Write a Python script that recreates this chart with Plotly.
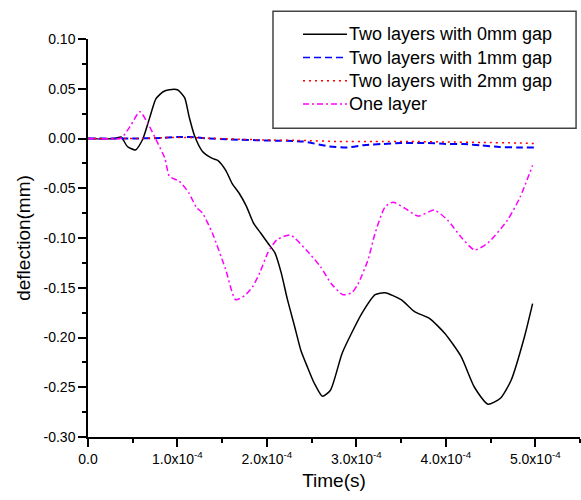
import plotly.graph_objects as go

# ---- data (time in seconds, deflection in mm) ----
t_gap0 = [0, 0.30e-4, 0.37e-4, 0.44e-4, 0.53e-4, 0.61e-4, 0.69e-4, 0.76e-4, 0.84e-4, 0.91e-4,
          1.00e-4, 1.08e-4, 1.13e-4, 1.19e-4, 1.28e-4, 1.39e-4, 1.45e-4, 1.54e-4, 1.61e-4, 1.69e-4,
          1.77e-4, 1.85e-4, 1.93e-4, 2.01e-4, 2.09e-4, 2.16e-4, 2.23e-4, 2.31e-4, 2.38e-4, 2.45e-4,
          2.53e-4, 2.62e-4, 2.71e-4, 2.84e-4, 2.95e-4, 3.06e-4, 3.21e-4, 3.32e-4, 3.50e-4, 3.65e-4,
          3.82e-4, 3.99e-4, 4.17e-4, 4.32e-4, 4.47e-4, 4.61e-4, 4.73e-4, 4.88e-4, 4.97e-4]
d_gap0 = [0, 0, 0.0015, -0.008, -0.0115, -0.001, 0.021, 0.040, 0.047, 0.049,
          0.049, 0.041, 0.022, 0.003, -0.013, -0.020, -0.022, -0.032, -0.045, -0.055,
          -0.068, -0.085, -0.095, -0.105, -0.115, -0.135, -0.162, -0.189, -0.213, -0.229,
          -0.246, -0.259, -0.253, -0.216, -0.195, -0.176, -0.157, -0.155, -0.162, -0.174,
          -0.181, -0.196, -0.219, -0.250, -0.267, -0.261, -0.243, -0.199, -0.166]

t_gap1 = [0, 0.5e-4, 0.8e-4, 1.0e-4, 1.15e-4, 1.35e-4, 1.6e-4, 2.0e-4, 2.4e-4, 2.7e-4, 2.9e-4,
          3.1e-4, 3.3e-4, 3.5e-4, 3.8e-4, 4.0e-4, 4.2e-4, 4.4e-4, 4.6e-4, 4.8e-4, 5.0e-4]
d_gap1 = [0, 0, 0.0005, 0.0015, 0.0015, 0.0, -0.001, -0.002, -0.003, -0.008, -0.009,
          -0.0065, -0.0055, -0.0045, -0.0045, -0.0055, -0.0055, -0.007, -0.0085, -0.009, -0.009]

t_gap2 = [0, 0.6e-4, 0.9e-4, 1.1e-4, 1.3e-4, 1.6e-4, 2.0e-4, 2.4e-4, 2.8e-4, 3.2e-4,
          3.6e-4, 4.0e-4, 4.4e-4, 4.8e-4, 5.0e-4]
d_gap2 = [0, 0, 0.001, 0.001, 0.0005, -0.0005, -0.0015, -0.002, -0.003, -0.003,
          -0.003, -0.0035, -0.004, -0.0045, -0.005]

t_one = [0, 0.36e-4, 0.39e-4, 0.47e-4, 0.58e-4, 0.67e-4, 0.76e-4, 0.86e-4, 0.91e-4, 1.02e-4,
         1.13e-4, 1.21e-4, 1.28e-4, 1.39e-4, 1.54e-4, 1.65e-4, 1.75e-4, 1.84e-4, 1.92e-4, 2.01e-4,
         2.11e-4, 2.26e-4, 2.44e-4, 2.60e-4, 2.72e-4, 2.85e-4, 2.95e-4, 3.02e-4, 3.13e-4, 3.21e-4,
         3.32e-4, 3.41e-4, 3.54e-4, 3.69e-4, 3.87e-4, 4.02e-4, 4.17e-4, 4.32e-4, 4.47e-4, 4.69e-4,
         4.83e-4, 4.97e-4]
d_one = [0, 0, 0.002, 0.012, 0.027, 0.015, -0.001, -0.020, -0.038, -0.043,
         -0.055, -0.069, -0.075, -0.095, -0.132, -0.162, -0.158, -0.149, -0.135, -0.115,
         -0.102, -0.097, -0.112, -0.129, -0.146, -0.157, -0.155, -0.146, -0.122, -0.095,
         -0.069, -0.064, -0.070, -0.078, -0.072, -0.082, -0.099, -0.112, -0.105, -0.082,
         -0.059, -0.027]

series_names = ["Two layers with 0mm gap", "Two layers with 1mm gap",
                "Two layers with 2mm gap", "One layer"]

x_tickvals = [0, 1e-4, 2e-4, 3e-4, 4e-4, 5e-4]
x_ticktext = ["0.0", "1.0x10<sup>-4</sup>", "2.0x10<sup>-4</sup>", "3.0x10<sup>-4</sup>",
              "4.0x10<sup>-4</sup>", "5.0x10<sup>-4</sup>"]
y_tickvals = [0.10, 0.05, 0.00, -0.05, -0.10, -0.15, -0.20, -0.25, -0.30]
y_ticktext = ["0.10", "0.05", "0.00", "-0.05", "-0.10", "-0.15", "-0.20", "-0.25", "-0.30"]

FONT = "Liberation Sans, Arial, sans-serif"

styles = [
    dict(color="#000000", width=1.5, dash="solid"),
    dict(color="#0000FF", width=2, dash="7px,4px"),
    dict(color="#FF0000", width=1.5, dash="2px,4px"),
    dict(color="#FF00FF", width=1.5, dash="6px,3px,2px,3px"),
]
xs = [t_gap0, t_gap1, t_gap2, t_one]
ys = [d_gap0, d_gap1, d_gap2, d_one]

fig = go.Figure()
for name, x, y, st in zip(series_names, xs, ys, styles):
    fig.add_trace(go.Scatter(x=x, y=y, mode="lines", name=name, showlegend=False,
                             line=dict(shape="spline", smoothing=0.6, **st)))

# legend (frame, key lines and labels, in paper coordinates)
fig.add_shape(type="rect", xref="paper", yref="paper", x0=0.376, x1=0.992, y0=0.776, y1=1.070,
              line=dict(color="#444444", width=1.5), fillcolor="rgba(0,0,0,0)")
legend_rows = [1.0118, 0.9535, 0.8952, 0.8367]
for name, st, ry in zip(series_names, styles, legend_rows):
    fig.add_shape(type="line", xref="paper", yref="paper", x0=0.437, x1=0.5264, y0=ry, y1=ry,
                  line=dict(color=st["color"], width=1.5, dash=st["dash"]))
    fig.add_annotation(xref="paper", yref="paper", x=0.527, y=ry, text=name, showarrow=False,
                       xanchor="left", yanchor="middle", font=dict(family=FONT, size=18, color="black"))

fig.update_layout(
    width=581, height=500,
    margin=dict(l=88, r=1, t=39, b=63, autoexpand=False),
    paper_bgcolor="white", plot_bgcolor="white",
    font=dict(family=FONT, color="black", size=14),
    showlegend=False,
    xaxis=dict(range=[0, 5.5e-4], tickvals=x_tickvals, ticktext=x_ticktext, automargin=False,
               showgrid=False, zeroline=False, showline=True, linecolor="black", linewidth=1.5,
               ticks="outside", ticklen=8, tickwidth=1.5, tickcolor="black",
               minor=dict(dtick=0.5e-4, ticks="outside", ticklen=4, tickwidth=1.5, tickcolor="black", showgrid=False),
               title=dict(text="Time(s)", font=dict(size=19), standoff=8),
               tickfont=dict(size=14)),
    yaxis=dict(range=[-0.30, 0.10], tickvals=y_tickvals, ticktext=y_ticktext, automargin=False,
               showgrid=False, zeroline=False, showline=True, linecolor="black", linewidth=1.5,
               ticks="outside", ticklen=8, tickwidth=1.5, tickcolor="black",
               minor=dict(dtick=0.025, tick0=0, ticks="outside", ticklen=4, tickwidth=1.5, tickcolor="black", showgrid=False),
               title=dict(text="deflection(mm)", font=dict(size=19), standoff=8),
               tickfont=dict(size=14)),
)

fig.write_html("out.html", config={"displayModeBar": False},
               post_script="document.body.style.margin='0';")
